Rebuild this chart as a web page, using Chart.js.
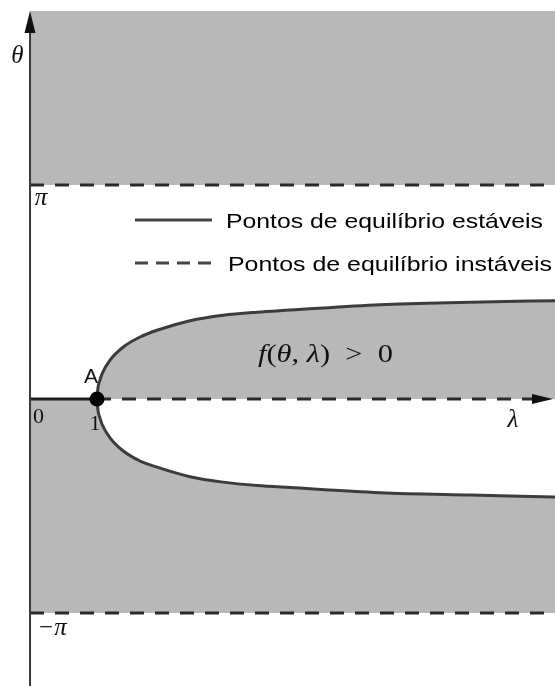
<!DOCTYPE html>
<html lang="pt">
<head>
<meta charset="UTF-8">
<title>Diagrama de bifurcação</title>
<script src="https://cdn.jsdelivr.net/npm/chart.js@4.4.1/dist/chart.umd.min.js"></script>
<style>
    body { margin: 0; background: #fff; }
    canvas { display: block; }
</style>
</head>
<body>
<canvas id="canvas" width="555" height="686"></canvas>
<script>
    var lambdaBranch = [1, 1.015, 1.045, 1.075, 1.194, 1.388, 1.642, 1.896, 2.388, 2.881, 3.388, 3.881, 5.224, 6.567, 7.9];
    var thetaUpper = [0, 0.17, 0.28, 0.37, 0.57, 0.76, 0.91, 1.01, 1.15, 1.23, 1.275, 1.305, 1.385, 1.42, 1.445];
    var thetaLower = [0, -0.17, -0.28, -0.37, -0.57, -0.76, -0.91, -1.0, -1.14, -1.22, -1.27, -1.30, -1.375, -1.41, -1.44];

    // eixo theta = 0: estável até lambda = 1, instável depois
    var stableAxis = [0, 1];
    var unstableAxis = [1, 7.5];
    var lambdaEnd = 7.9;

    var thetaTicks = [Math.PI, -Math.PI];
    var thetaTickLabels = ['π', '−π'];
    var lambdaTicks = [0, 1];
    var lambdaTickLabels = ['0', '1'];
    var bifurcationPoint = [1, 0];
    var legendLabels = ['Pontos de equilíbrio estáveis', 'Pontos de equilíbrio instáveis'];

    var GRAY = '#b8b8b8';
    var CURVE = '#3c3c3c';
    var DASH = '#2a2a2a';

    function pts(xs, ys) {
        return xs.map(function (x, i) { return {x: x, y: ys[i]}; });
    }

    function drawText(ctx, text, x, y, font, align, width) {
        ctx.font = font;
        ctx.textAlign = 'left';
        ctx.textBaseline = 'alphabetic';
        var w = ctx.measureText(text).width;
        var sx = width ? width / w : 1;
        ctx.save();
        ctx.translate(x, y);
        ctx.scale(sx, 1);
        ctx.fillText(text, align === 'center' ? -w / 2 : 0, 0);
        ctx.restore();
    }

    // eixos com setas, rótulos, legenda e a expressão da região
    var overlay = {
        id: 'overlay',
        afterDatasetsDraw: function (chart) {
            var ctx = chart.ctx;
            var xs = chart.scales.x, ys = chart.scales.y;
            var area = chart.chartArea;
            var x0 = xs.getPixelForValue(0);
            var y0 = ys.getPixelForValue(0);

            ctx.save();
            // eixo theta
            ctx.strokeStyle = '#3a3a3a';
            ctx.lineWidth = 2;
            ctx.beginPath();
            ctx.moveTo(x0, area.top + 18);
            ctx.lineTo(x0, area.bottom);
            ctx.stroke();
            ctx.fillStyle = '#111';
            ctx.beginPath();
            ctx.moveTo(x0, area.top);
            ctx.lineTo(x0 - 5.5, area.top + 22);
            ctx.lineTo(x0 + 5.5, area.top + 22);
            ctx.closePath();
            ctx.fill();

            // seta do eixo lambda
            var tip = area.right - 2;
            ctx.beginPath();
            ctx.moveTo(tip, y0);
            ctx.lineTo(tip - 21, y0 - 5);
            ctx.lineTo(tip - 21, y0 + 5);
            ctx.closePath();
            ctx.fill();

            ctx.fillStyle = '#111';
            drawText(ctx, 'θ', x0 - 12.5, 63, 'italic 25px "Liberation Serif", serif', 'center');
            drawText(ctx, 'λ', tip - 40, y0 + 28, 'italic 25px "Liberation Serif", serif', 'center');

            drawText(ctx, thetaTickLabels[0], x0 + 11, ys.getPixelForValue(thetaTicks[0]) + 20,
                'italic 25px "Liberation Serif", serif', 'center');
            drawText(ctx, thetaTickLabels[1], x0 + 22, ys.getPixelForValue(thetaTicks[1]) + 22,
                'italic 25px "Liberation Serif", serif', 'center');
            drawText(ctx, lambdaTickLabels[0], xs.getPixelForValue(lambdaTicks[0]) + 8.5, y0 + 24,
                '22px "Liberation Serif", serif', 'center');
            drawText(ctx, lambdaTickLabels[1], xs.getPixelForValue(lambdaTicks[1]) - 2, y0 + 31,
                '22px "Liberation Serif", serif', 'center');
            drawText(ctx, 'A', xs.getPixelForValue(bifurcationPoint[0]) - 6, ys.getPixelForValue(bifurcationPoint[1]) - 16,
                '21px "Liberation Sans", Arial, sans-serif', 'center');

            // f(θ, λ) > 0
            var parts = [
                ['f', 'italic'], ['(', ''], ['θ', 'italic'], [', ', ''], ['λ', 'italic'], [')', ''], ['  >  ', ''], ['0', '']
            ];
            var size = 25, total = 0;
            parts.forEach(function (p) {
                ctx.font = p[1] + ' ' + size + 'px "Liberation Serif", serif';
                p.push(ctx.measureText(p[0]).width);
                total += p[2];
            });
            var sx = 135 / total;
            var px = 258;
            parts.forEach(function (p) {
                ctx.save();
                ctx.font = p[1] + ' ' + size + 'px "Liberation Serif", serif';
                ctx.textAlign = 'left';
                ctx.translate(px, 362);
                ctx.scale(sx, 1);
                ctx.fillText(p[0], 0, 0);
                ctx.restore();
                px += p[2] * sx;
            });

            // legenda
            ctx.strokeStyle = '#444';
            ctx.lineWidth = 3;
            ctx.beginPath();
            ctx.moveTo(135, 220);
            ctx.lineTo(212, 220);
            ctx.stroke();
            ctx.setLineDash([13, 8]);
            ctx.beginPath();
            ctx.moveTo(135, 263);
            ctx.lineTo(218, 263);
            ctx.stroke();
            ctx.setLineDash([]);
            ctx.fillStyle = '#000';
            drawText(ctx, legendLabels[0], 226, 228, '21px "Liberation Sans", Arial, sans-serif', 'left', 317);
            drawText(ctx, legendLabels[1], 228, 271, '21px "Liberation Sans", Arial, sans-serif', 'left', 324);
            ctx.restore();
        }
    };

    var ctx = document.getElementById('canvas').getContext('2d');
    new Chart(ctx, {
        type: 'scatter',
        data: {
            datasets: [{
                // ponto de bifurcação A
                data: [{x: bifurcationPoint[0], y: bifurcationPoint[1]}],
                showLine: false,
                pointRadius: 7.5,
                pointBackgroundColor: '#000',
                pointBorderWidth: 0,
                order: 0
            }, {
                data: pts(lambdaBranch, thetaUpper),
                showLine: true,
                cubicInterpolationMode: 'monotone',
                borderColor: CURVE,
                borderWidth: 3,
                pointRadius: 0,
                fill: 'origin',
                backgroundColor: GRAY,
                order: 1
            }, {
                data: pts(lambdaBranch, thetaLower),
                showLine: true,
                cubicInterpolationMode: 'monotone',
                borderColor: CURVE,
                borderWidth: 3,
                pointRadius: 0,
                fill: {value: -Math.PI},
                backgroundColor: GRAY,
                order: 1
            }, {
                data: pts(stableAxis, [0, 0]),
                showLine: true,
                borderColor: '#1e1e1e',
                borderWidth: 3,
                pointRadius: 0,
                fill: {value: -Math.PI},
                backgroundColor: GRAY,
                order: 1
            }, {
                data: pts(unstableAxis, [0, 0]),
                showLine: true,
                borderColor: DASH,
                borderWidth: 3,
                borderDash: [14, 11],
                pointRadius: 0,
                order: 1
            }, {
                data: pts([0, lambdaEnd], [thetaTicks[0], thetaTicks[0]]),
                showLine: true,
                borderColor: DASH,
                borderWidth: 3,
                borderDash: [14, 11],
                pointRadius: 0,
                fill: 'end',
                backgroundColor: GRAY,
                order: 1
            }, {
                data: pts([0, lambdaEnd], [thetaTicks[1], thetaTicks[1]]),
                showLine: true,
                borderColor: DASH,
                borderWidth: 3,
                borderDash: [14, 11],
                pointRadius: 0,
                order: 1
            }]
        },
        options: {
            responsive: false,
            animation: false,
            layout: {autoPadding: false, padding: {top: 11, left: 0, right: 0, bottom: 0}},
            scales: {
                x: {type: 'linear', display: false, min: -0.448, max: 7.836},
                y: {type: 'linear', display: false, min: -4.213, max: 5.696}
            },
            plugins: {
                legend: {display: false},
                tooltip: {enabled: false},
                filler: {drawTime: 'beforeDatasetsDraw'}
            }
        },
        plugins: [overlay]
    });
</script>
</body>
</html>
